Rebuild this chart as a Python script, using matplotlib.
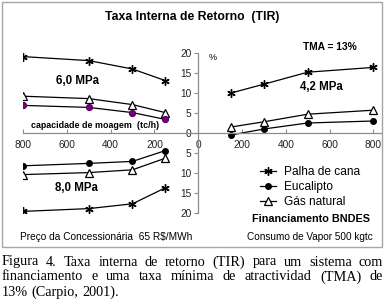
import matplotlib
matplotlib.use('Agg')
import matplotlib.pyplot as plt
from matplotlib.lines import Line2D
from matplotlib.patches import Rectangle
from matplotlib.ticker import FuncFormatter
import numpy as np

# capacidade de moagem (tc/h)
x_left = [800, 500, 300, 150]
x_right = [150, 300, 500, 800]

# TIR (%) 6,0 MPa  (quadrante superior esquerdo)
palha_60 = [19.1, 18.1, 16.0, 13.1]
gas_60 = [9.2, 8.6, 7.1, 5.1]
euca_60 = [6.9, 6.4, 5.1, 3.4]

# TIR (%) 8,0 MPa  (quadrante inferior esquerdo, desenhado para baixo)
palha_80 = [19.6, 18.9, 17.7, 13.7]
gas_80 = [10.4, 9.9, 9.2, 6.3]
euca_80 = [8.2, 7.6, 7.1, 4.4]

# TIR (%) 4,2 MPa  (quadrante superior direito)
palha_42 = [10.0, 12.2, 15.2, 16.4]
gas_42 = [1.5, 2.8, 4.7, 5.7]
euca_42 = [-0.5, 1.0, 2.5, 3.0]

series_names = ['Palha de cana', 'Eucalipto', 'Gás natural']
x_ticks = [-800, -600, -400, -200, 0, 200, 400, 600, 800]
y_ticks = [-20, -15, -10, -5, 0, 5, 10, 15, 20]

caption = ['Figura 4. Taxa interna de retorno (TIR) para um sistema com',
           'financiamento e uma taxa mínima de atractividad (TMA) de',
           '13% (Carpio, 2001).']

W, H = 385, 305
SANS = 'Liberation Sans'
SERIF = 'Liberation Serif'

STAR = dict(marker=(6, 2, 0), markersize=6, markeredgewidth=1.0,
            color='black', markeredgecolor='black')
DOT = dict(marker='o', markersize=4, color='black',
           markerfacecolor='black', markeredgecolor='black')
TRI = dict(marker='^', markersize=5.5, markeredgewidth=0.9, color='black',
           markerfacecolor='white', markeredgecolor='black')


def fx(px):
    return px / W


def fy(py):
    return 1 - py / H


def put(fig, x, y, s, size, bold=False, ha='center', family=SANS):
    fig.text(fx(x), fy(y), s, ha=ha, va='center', fontsize=size,
             fontweight='bold' if bold else 'normal', family=family)


def justify(fig, line, y, x0, x1, size, last=False):
    renderer = fig.canvas.get_renderer()
    words = line.split(' ')
    texts = [fig.text(0, fy(y), w, fontsize=size, family=SERIF,
                      va='center', ha='left') for w in words]
    widths = [t.get_window_extent(renderer).width for t in texts]
    if last:
        gap = size * 100 / 72 * 0.25
    else:
        gap = (x1 - x0 - sum(widths)) / (len(words) - 1)
    x = x0
    for t, w in zip(texts, widths):
        t.set_x(fx(x))
        x += w + gap


def main():
    fig = plt.figure(figsize=(W / 100, H / 100), dpi=100)

    # marco cinzento do grafico
    fig.patches.append(Rectangle((fx(2), fy(247)), fx(380), 245 / H,
                                 transform=fig.transFigure, fill=False,
                                 edgecolor='#a6a6a6', linewidth=1.0))

    ax = fig.add_axes([fx(23), fy(213), fx(358), 160 / H])
    xl = -np.array(x_left)
    xr = np.array(x_right)

    lw = 0.9
    ax.plot(xl, palha_60, lw=lw, **STAR)
    ax.plot(xl, gas_60, lw=lw, **TRI)
    ax.plot(xl, euca_60, lw=lw, marker='o', markersize=4.2, color='black',
            markerfacecolor='#7b007f', markeredgecolor='#5a005e')

    ax.plot(xl, -np.array(palha_80), lw=lw, **STAR)
    ax.plot(xl, -np.array(gas_80), lw=lw, **TRI)
    ax.plot(xl, -np.array(euca_80), lw=lw, **DOT)

    ax.plot(xr, palha_42, lw=lw, **STAR)
    ax.plot(xr, gas_42, lw=lw, **TRI)
    ax.plot(xr, euca_42, lw=lw, **DOT)

    ax.set_xlim(-800, 835)
    ax.set_ylim(-20, 20)
    for side in ['top', 'right']:
        ax.spines[side].set_visible(False)
    ax.spines['left'].set_position(('data', 0))
    ax.spines['bottom'].set_position(('data', 0))
    for side in ['left', 'bottom']:
        ax.spines[side].set_color('#8c8c8c')
        ax.spines[side].set_linewidth(0.9)

    absfmt = FuncFormatter(lambda v, p: '%d' % abs(v))
    ax.set_xticks(x_ticks)
    ax.set_yticks(y_ticks)
    ax.xaxis.set_major_formatter(absfmt)
    ax.yaxis.set_major_formatter(absfmt)
    ax.tick_params(axis='x', direction='in', length=3, color='#8c8c8c',
                   labelsize=7.3, pad=5)
    ax.tick_params(axis='y', direction='out', length=3, color='#8c8c8c',
                   labelsize=7.3, pad=2)
    for lab in ax.get_xticklabels() + ax.get_yticklabels():
        lab.set_family(SANS)
        lab.set_color('#222222')
    ax.patch.set_visible(False)

    handles = [Line2D([], [], lw=lw, **STAR), Line2D([], [], lw=lw, **DOT),
               Line2D([], [], lw=lw, **TRI)]
    ax.legend(handles, series_names, loc='upper left',
              bbox_to_anchor=(fx(260), fy(166)),
              bbox_transform=fig.transFigure, frameon=False,
              prop={'family': SANS, 'size': 8.6}, handlelength=1.3,
              handletextpad=0.75, labelspacing=0.26, borderpad=0,
              borderaxespad=0)

    put(fig, 192, 17, 'Taxa Interna de Retorno  (TIR)', 8.8, bold=True)
    put(fig, 330, 47, 'TMA = 13%', 7.4, bold=True)
    put(fig, 213, 57, '%', 6.5)
    put(fig, 77, 81, '6,0 MPa', 8.3, bold=True)
    put(fig, 321, 87, '4,2 MPa', 8.3, bold=True)
    put(fig, 95, 126, 'capacidade de moagem  (tc/h)', 6.4, bold=True)
    put(fig, 76, 188, '8,0 MPa', 8.3, bold=True)
    put(fig, 311, 219, 'Financiamento BNDES', 7.8, bold=True)
    put(fig, 106, 237, 'Preço da Concessionária  65 R$/MWh', 7.3)
    put(fig, 310, 237, 'Consumo de Vapor 500 kgtc', 7.2)

    fig.canvas.draw()
    for i, line in enumerate(caption):
        justify(fig, line, 262 + 15 * i, 2, 383, 10.3, last=(i == len(caption) - 1))

    fig.savefig('out.png', dpi=100)


if __name__ == '__main__':
    main()
